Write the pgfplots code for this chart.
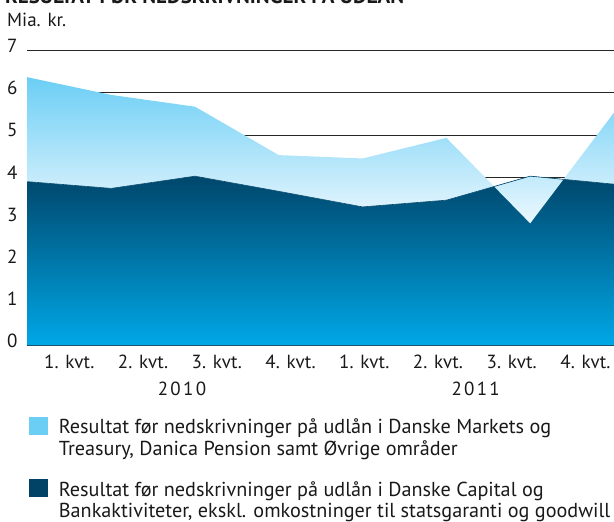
\documentclass[border=0pt]{standalone}
\usepackage{pgfplots}
\pgfplotsset{compat=1.18}
\usepackage{pgfplotstable}
\usepackage{fontspec}
\setmainfont{PT Sans}
\definecolor{lightA}{RGB}{107,206,245}
\definecolor{lightB}{RGB}{236,248,254}
\definecolor{darkA}{RGB}{0,70,107}
\definecolor{darkB}{RGB}{0,168,231}
\definecolor{txt}{RGB}{25,25,25}

% dark: Danske Capital og Bankaktiviteter; light: Markets, Treasury, Danica, Ovrige
\pgfplotstableread{
x dark light
0 3.89 2.48
1 3.73 2.22
2 4.02 1.65
3 3.66 0.86
4 3.29 1.15
5 3.45 1.48
6 4.02 -1.12
7 3.83 1.70
}\datatable

\begin{document}
\begin{tikzpicture}
\useasboundingbox (0pt,0pt) rectangle (614pt,-522pt);
\node[anchor=base west, inner sep=0, text=txt, font=\bfseries\fontsize{21}{24}\selectfont] at (5pt,-3pt) {RESULTAT FØR NEDSKRIVNINGER PÅ UDLÅN};
\node[anchor=base west, inner sep=0, text=txt, font=\fontsize{19}{22}\selectfont] at (7pt,-27pt) {Mia. kr.};
\begin{axis}[
  at={(27.4pt,-345.4pt)}, anchor=south west, scale only axis,
  width=586.6pt, height=294.7pt,
  xmin=0, xmax=7, ymin=0, ymax=7,
  axis line style={draw=none},
  major tick length=0pt,
  ytick={0,1,2,3,4,5,6,7},
  ymajorgrids, grid style={black!85, line width=0.8pt},
  xtick={0.5,1.38,2.26,3.14,4.02,4.9,5.78,6.66},
  xticklabels={1. kvt.,2. kvt.,3. kvt.,4. kvt.,1. kvt.,2. kvt.,3. kvt.,4. kvt.},
  ticklabel style={font=\fontsize{19}{22}\selectfont, text=txt, inner sep=0pt},
  yticklabel style={anchor=base west, xshift=-20.4pt, yshift=-2pt},
  xticklabel style={anchor=base, yshift=-23pt},
  /pgf/number format/assume math mode=true,
  clip=false,
]
\addplot[stack plots=y, draw=none, top color=darkA, bottom color=darkB] table[x=x, y=dark]{\datatable} \closedcycle;
\addplot[stack plots=y, draw=none, top color=lightA, bottom color=lightB] table[x=x, y=light]{\datatable} \closedcycle;
\addplot[stack plots=false, color=darkA, line width=0.6pt] table[x=x, y=dark]{\datatable};
\node[anchor=base, inner sep=0, text=txt, font=\fontsize{19}{22}\selectfont\addfontfeatures{LetterSpace=12}] at (axis cs:1.845,0) [yshift=-49.6pt] {2010};
\node[anchor=base, inner sep=0, text=txt, font=\fontsize{19}{22}\selectfont\addfontfeatures{LetterSpace=12}] at (axis cs:5.35,0) [yshift=-49.6pt] {2011};
\end{axis}
\fill[lightA] (29pt,-417pt) rectangle (48pt,-435pt);
\fill[darkA!95!black] (29pt,-479pt) rectangle (48pt,-497pt);
\begin{scope}[every node/.style={anchor=base west, inner sep=0, text=txt, font=\fontsize{20.2}{23}\selectfont}]
\node at (58.7pt,-433pt) {Resultat før nedskrivninger på udlån i Danske Markets og};
\node at (58.7pt,-455pt) {Treasury, Danica Pension samt Øvrige områder};
\node at (58.7pt,-496pt) {Resultat før nedskrivninger på udlån i Danske Capital og};
\node at (58.7pt,-517pt) {Bankaktiviteter, ekskl. omkostninger til statsgaranti og goodwill};
\end{scope}
\end{tikzpicture}
\end{document}
